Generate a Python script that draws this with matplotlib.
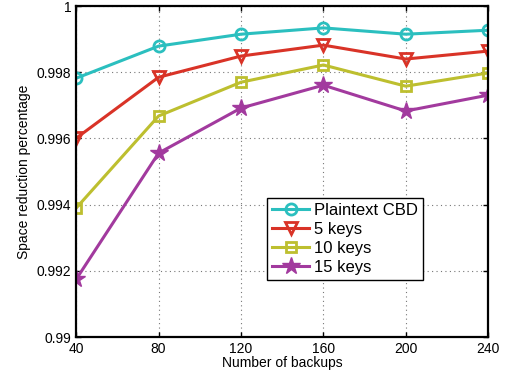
import matplotlib
matplotlib.use('Agg')
import matplotlib.pyplot as plt

plt.rcParams['font.family'] = ['Liberation Sans', 'DejaVu Sans']

backups = [40, 80, 120, 160, 200, 240]
plaintext = [0.99782, 0.99879, 0.99915, 0.99934, 0.99915, 0.99927]
keys5 = [0.99601, 0.99785, 0.99849, 0.99882, 0.99840, 0.99864]
keys10 = [0.99390, 0.99668, 0.99770, 0.99822, 0.99758, 0.99798]
keys15 = [0.99175, 0.99556, 0.99692, 0.99761, 0.99683, 0.99731]

fig = plt.figure(figsize=(5.08, 3.78), dpi=100)
ax = fig.add_axes([0.15, 0.108, 0.811, 0.876])

ax.plot(backups, plaintext, color='#2bbfbf', marker='o', ms=8, mfc='none', mew=2, lw=2.2, label='Plaintext CBD')
ax.plot(backups, keys5, color='#d93327', marker='v', ms=9, mfc='none', mew=2, lw=2.2, label='5 keys')
ax.plot(backups, keys10, color='#bdbf2f', marker='s', ms=7, mfc='none', mew=2, lw=2.2, label='10 keys')
ax.plot(backups, keys15, color='#a23a9e', marker='*', ms=13, lw=2.2, label='15 keys')

ax.set_xlim(40, 240)
ax.set_ylim(0.99, 1.0)
ax.set_xticks(backups)
ax.set_yticks([0.99, 0.992, 0.994, 0.996, 0.998, 1.0])
ax.set_yticklabels(['0.99', '0.992', '0.994', '0.996', '0.998', '1'])
ax.tick_params(direction='in', top=True, right=True, labelsize=10, width=1)
ax.grid(True, linestyle=(0, (1, 3)), color='#777777', linewidth=0.8)
for s in ax.spines.values():
    s.set_linewidth(1.6)

ax.set_xlabel('Number of backups', fontsize=10, labelpad=0)
ax.set_ylabel('Space reduction percentage', fontsize=10)

leg = ax.legend(loc='lower left', bbox_to_anchor=(0.464, 0.172), borderaxespad=0,
                fontsize=12, fancybox=False, edgecolor='black', framealpha=1,
                handlelength=2.2, borderpad=0.3, labelspacing=0.25, handletextpad=0.3)
leg.get_frame().set_linewidth(1.0)

fig.savefig('out.png', dpi=100)
